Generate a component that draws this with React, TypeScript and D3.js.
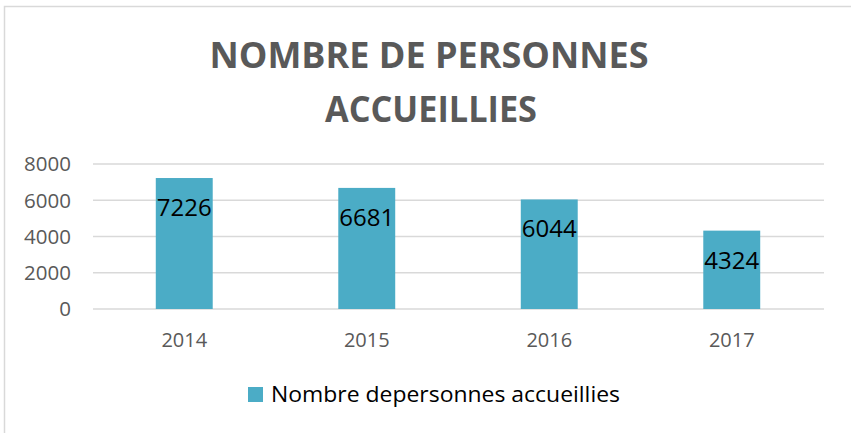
import React from "react";
import * as d3 from "d3";

const categories = ["2014", "2015", "2016", "2017"];
const values = [7226, 6681, 6044, 4324];
const yTicks = [0, 2000, 4000, 6000, 8000];
const titleLines = ["NOMBRE DE PERSONNES", "ACCUEILLIES"];
const seriesName = "Nombre depersonnes accueillies";

const W = 851;
const H = 433;
const FONT = "'Open Sans', 'Liberation Sans', sans-serif";

export default function App() {
  const x = d3
    .scaleBand<string>()
    .domain(categories)
    .range([93, 823])
    .paddingInner(0.688)
    .paddingOuter(0.344);
  const y = d3.scaleLinear().domain([0, 8000]).range([309, 164]);

  return (
    <svg
      width={W}
      height={H}
      style={{ position: "absolute", left: 0, top: 0, background: "#fff" }}
    >
      <rect x={4.5} y={6.5} width={W + 10} height={H + 10} fill="#fff" stroke="#d9d9d9" strokeWidth={1.5} />
      <text
        x={429}
        y={68}
        textAnchor="middle"
        fontFamily={FONT}
        fontWeight={700}
        fontSize={36}
        fill="#595959"
        textLength={439}
        lengthAdjust="spacingAndGlyphs"
      >
        {titleLines[0]}
      </text>
      <text
        x={431}
        y={122}
        textAnchor="middle"
        fontFamily={FONT}
        fontWeight={700}
        fontSize={36}
        fill="#595959"
        textLength={212}
        lengthAdjust="spacingAndGlyphs"
      >
        {titleLines[1]}
      </text>
      {yTicks.map((t) => (
        <g key={t}>
          <line x1={93} x2={824} y1={y(t)} y2={y(t)} stroke="#d9d9d9" strokeWidth={1.5} />
          <text
            x={71}
            y={y(t)}
            dy="0.36em"
            textAnchor="end"
            fontFamily={FONT}
            fontSize={20.5}
            fill="#595959"
          >
            {t}
          </text>
        </g>
      ))}
      {categories.map((c, i) => (
        <g key={c}>
          <rect
            x={x(c)}
            y={y(values[i])}
            width={x.bandwidth()}
            height={y(0) - y(values[i])}
            fill="#4BACC6"
          />
          <text
            x={(x(c) as number) + x.bandwidth() / 2}
            y={y(values[i]) + 38}
            textAnchor="middle"
            fontFamily={FONT}
            fontSize={24}
            fill="#000"
          >
            {values[i]}
          </text>
          <text
            x={(x(c) as number) + x.bandwidth() / 2}
            y={347}
            textAnchor="middle"
            fontFamily={FONT}
            fontSize={20}
            fill="#595959"
          >
            {c}
          </text>
        </g>
      ))}
      <rect x={248} y={387} width={15} height={15} fill="#4BACC6" />
      <text
        x={271}
        y={402}
        fontFamily={FONT}
        fontSize={21.5}
        fill="#000"
        textLength={349}
        lengthAdjust="spacingAndGlyphs"
      >
        {seriesName}
      </text>
    </svg>
  );
}
